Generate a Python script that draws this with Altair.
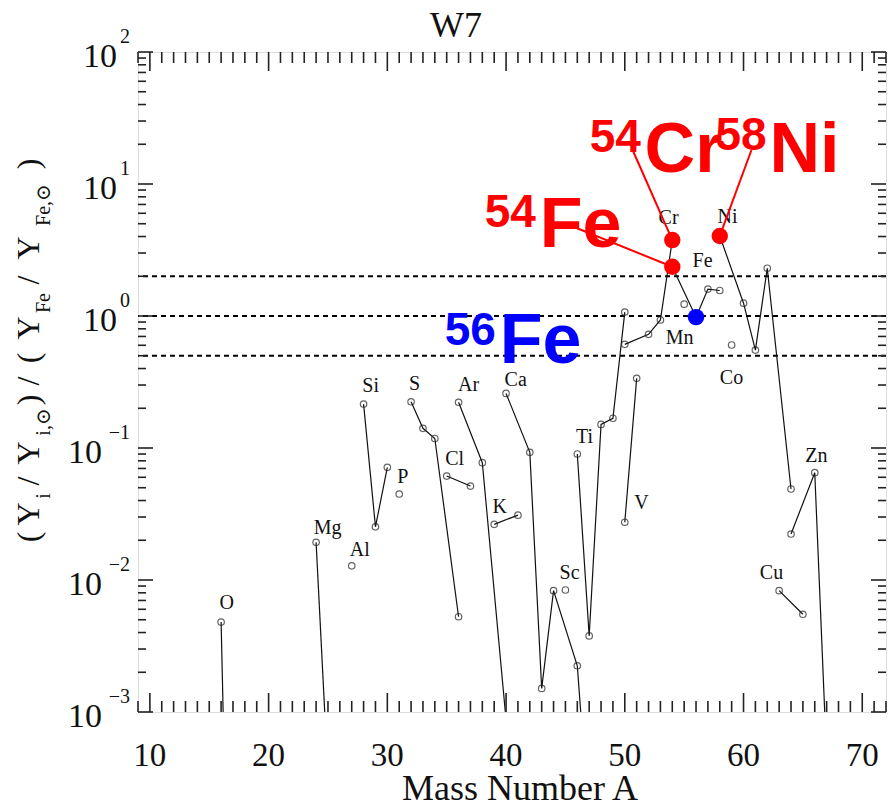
import altair as alt
import pandas as pd

# W7 isotopic production factors relative to 56Fe, one row per isotope
iso_element = [
    "O", "O",
    "Mg", "Mg",
    "Al",
    "Si", "Si", "Si",
    "P",
    "S", "S", "S", "S",
    "Cl", "Cl",
    "Ar", "Ar", "Ar",
    "K", "K",
    "Ca", "Ca", "Ca", "Ca", "Ca", "Ca",
    "Sc",
    "Ti", "Ti", "Ti", "Ti", "Ti",
    "V", "V",
    "Cr", "Cr", "Cr", "Cr",
    "Mn",
    "Fe", "Fe", "Fe", "Fe",
    "Co",
    "Ni", "Ni", "Ni", "Ni", "Ni",
    "Cu", "Cu",
    "Zn", "Zn", "Zn",
]
iso_mass = [
    16, 17,
    24, 25,
    27,
    28, 29, 30,
    31,
    32, 33, 34, 36,
    35, 37,
    36, 38, 40,
    39, 41,
    40, 42, 43, 44, 46, 48,
    45,
    46, 47, 48, 49, 50,
    50, 51,
    50, 52, 53, 54,
    55,
    54, 56, 57, 58,
    59,
    58, 60, 61, 62, 64,
    63, 65,
    64, 66, 67,
]
iso_ratio = [
    4.8e-3, 5e-7,
    0.0193, 3.3e-4,
    0.0128,
    0.215, 0.0253, 0.0714,
    0.0448,
    0.224, 0.141, 0.118, 0.00527,
    0.0613, 0.0515,
    0.222, 0.0774, 8.7e-4,
    0.0264, 0.031,
    0.259, 0.0927, 0.00151, 0.0083, 0.00224, 8.5e-6,
    0.0084,
    0.0901, 0.00377, 0.151, 0.168, 1.07,
    0.0274, 0.337,
    0.61, 0.726, 0.933, 3.76,
    1.23,
    2.36, 0.98, 1.60, 1.56,
    0.603,
    4.04, 1.25, 0.552, 2.30, 0.0489,
    0.0083, 0.0055,
    0.0223, 0.065, 4.5e-4,
]

# element name tags: (symbol, mass-number position, ratio position)
tag_text = ["O", "Mg", "Al", "Si", "P", "S", "Cl", "Ar", "K", "Ca",
            "Sc", "Ti", "V", "Cr", "Fe", "Mn", "Ni", "Co", "Cu", "Zn"]
tag_mass = [16.48, 24.98, 27.68, 28.6, 31.3, 32.3, 35.67, 36.85, 39.46, 40.81,
            45.35, 46.6, 51.4, 53.69, 56.55, 54.61, 58.65, 58.99, 62.36, 66.14]
tag_ratio = [6.7e-3, 0.0248, 0.0169, 0.295, 0.0603, 0.305, 0.0826, 0.300, 0.0357, 0.325,
             0.0113, 0.121, 0.0383, 5.52, 2.61, 0.681, 5.62, 0.339, 0.0113, 0.0869]

# highlighted isotopes and their callouts
hl_element = ["Cr", "Fe", "Ni", "Fe"]
hl_mass = [54, 54, 58, 56]
hl_color = ["red", "red", "red", "blue"]
callout_from_mass = [50.66, 45.10, 60.67]
callout_from_ratio = [18.1, 4.98, 18.1]
big_mass_text = ["54", "54", "58", "56"]
big_mass_x = [47.04, 38.2, 57.64, 34.83]
big_mass_y = [17.48, 4.72, 18.1, 0.603]
big_sym_text = ["Cr", "Fe", "Ni", "Fe"]
big_sym_x = [51.67, 42.83, 62.19, 39.46]
big_sym_y = [12.33, 3.33, 12.33, 0.4406]

ref_levels = [0.5, 1.0, 2.0]
x_labels = [10, 20, 30, 40, 50, 60, 70]
y_decades = [1e-3, 1e-2, 1e-1, 1e0, 1e1, 1e2]
y_exponents = ["\u22123", "\u22122", "\u22121", "0", "1", "2"]

W, H = 748, 660
SERIF = "Liberation Serif, DejaVu Serif"
SANS = "Liberation Sans"

assert len(iso_element) == len(iso_mass) == len(iso_ratio)
iso = pd.DataFrame({"element": iso_element, "A": iso_mass, "ratio": iso_ratio})

xs = alt.Scale(domain=[9, 72], nice=False, zero=False)
ys = alt.Scale(type="log", domain=[1e-3, 1e2], nice=False)


def X(field="A"):
    return alt.X(f"{field}:Q", scale=xs, axis=None)


def Y(field="ratio"):
    return alt.Y(f"{field}:Q", scale=ys, axis=None)


# reference levels
refs = alt.Chart(pd.DataFrame({"ratio": ref_levels})).mark_rule(
    color="black", strokeWidth=1.8, strokeDash=[5, 4]
).encode(y=Y())

# isotope chains per element
lines = alt.Chart(iso).mark_line(color="#111", strokeWidth=1.2, clip=True).encode(
    x=X(), y=Y(), detail="element:N", order="A:Q"
)
points = alt.Chart(iso).transform_filter("datum.ratio >= 0.001").mark_point(
    shape="circle", filled=False, size=42, color="#222", strokeWidth=1.2
).encode(x=X(), y=Y())

tags = alt.Chart(pd.DataFrame({"t": tag_text, "A": tag_mass, "ratio": tag_ratio})).mark_text(
    font=SERIF, fontSize=20, color="#111", align="center", baseline="middle"
).encode(x=X(), y=Y(), text="t:N")

# highlighted isotopes
hl = pd.DataFrame({"element": hl_element, "A": hl_mass, "color": hl_color})
hl = hl.merge(iso, on=["element", "A"])
call = hl.iloc[:3].copy()
call["A0"] = callout_from_mass
call["r0"] = callout_from_ratio
callouts = alt.Chart(call).mark_rule(color="red", strokeWidth=2).encode(
    x=X("A0"), y=Y("r0"), x2="A:Q", y2="ratio:Q"
)
dots = alt.Chart(hl).mark_circle(size=270, opacity=1).encode(
    x=X(), y=Y(), color=alt.Color("color:N", scale=None)
)
big = pd.DataFrame({
    "m": big_mass_text, "mx": big_mass_x, "my": big_mass_y,
    "s": big_sym_text, "sx": big_sym_x, "sy": big_sym_y, "color": hl_color,
})
big_mass = alt.Chart(big).mark_text(
    font=SANS, fontWeight="bold", fontSize=46, align="left", baseline="alphabetic"
).encode(x=X("mx"), y=Y("my"), text="m:N", color=alt.Color("color:N", scale=None))
big_sym = alt.Chart(big).mark_text(
    font=SANS, fontWeight="bold", fontSize=70, align="left", baseline="alphabetic"
).encode(x=X("sx"), y=Y("sy"), text="s:N", color=alt.Color("color:N", scale=None))

# inward ticks on all four sides
x_major = pd.DataFrame({"A": x_labels})
x_minor = pd.DataFrame({"A": [a for a in range(9, 73) if a % 10]})
y_major = pd.DataFrame({"ratio": y_decades})
y_minor = pd.DataFrame({"ratio": [m * 10.0 ** k for k in range(-3, 2) for m in range(2, 10)]})
tick_style = dict(color="#222", strokeWidth=1.6)
ticks = []
for df, ln in ((x_major, 19), (x_minor, 11)):
    ticks.append(alt.Chart(df).mark_rule(**tick_style).encode(
        x=X(), y=alt.value(H), y2=alt.value(H - ln)))
    ticks.append(alt.Chart(df).mark_rule(**tick_style).encode(
        x=X(), y=alt.value(0), y2=alt.value(ln)))
for df, ln in ((y_major, 15), (y_minor, 8)):
    ticks.append(alt.Chart(df).mark_rule(**tick_style).encode(
        y=Y(), x=alt.value(0), x2=alt.value(ln)))
    ticks.append(alt.Chart(df).mark_rule(**tick_style).encode(
        y=Y(), x=alt.value(W), x2=alt.value(W - ln)))

# tick labels
xlab = alt.Chart(x_major).mark_text(
    font=SERIF, fontSize=33, color="#111", align="center", baseline="alphabetic"
).encode(x=X(), y=alt.value(H + 54), text="A:Q")
ylab_df = pd.DataFrame({"ratio": y_decades, "e": y_exponents})
ylab_pos = alt.Chart(ylab_df).transform_filter("datum.ratio >= 1").mark_text(
    font=SERIF, fontSize=34, color="#111", align="right", baseline="alphabetic", dy=15
).encode(y=Y(), x=alt.value(-21), text=alt.value("10"))
ylab_neg = alt.Chart(ylab_df).transform_filter("datum.ratio < 1").mark_text(
    font=SERIF, fontSize=34, color="#111", align="right", baseline="alphabetic", dy=15
).encode(y=Y(), x=alt.value(-36), text=alt.value("10"))
ylab_exp = alt.Chart(ylab_df).mark_text(
    font=SERIF, fontSize=20, color="#111", align="right", baseline="alphabetic", dy=-9
).encode(y=Y(), x=alt.value(-8), text="e:N")

# titles
title = alt.Chart(pd.DataFrame({"t": ["W7"]})).mark_text(
    font=SERIF, fontSize=36, color="#111", align="center", baseline="alphabetic"
).encode(x=alt.value(318), y=alt.value(-15), text="t:N")
xtitle = alt.Chart(pd.DataFrame({"t": ["Mass Number A"]})).mark_text(
    font=SERIF, fontSize=36, color="#111", align="center", baseline="alphabetic"
).encode(x=alt.value(382), y=alt.value(H + 88), text="t:N")

# rotated y title, built from normal-size runs and subscripts
ytitle_parts = [
    ("(", 537, False), ("Y", 514, False), ("i", 496, True), ("/", 481, False),
    ("Y", 453, False), ("i,\u2299", 422, True), (")", 400, False), ("/", 381, False),
    ("(", 358, False), ("Y", 328, False), ("Fe", 303, True), ("/", 280, False),
    ("Y", 248, False), ("Fe,\u2299", 205, True), (")", 164, False),
]
ytitle = []
for txt, yc, sub in ytitle_parts:
    ytitle.append(alt.Chart(pd.DataFrame({"t": [txt]})).mark_text(
        font=SERIF, fontSize=20 if sub else 32, color="#111", angle=270,
        align="center", baseline="alphabetic"
    ).encode(x=alt.value((50 if sub else 39) - 138), y=alt.value(yc - 52), text="t:N"))

chart = alt.layer(
    refs, lines, points, tags, *ticks, callouts, dots, big_mass, big_sym,
    xlab, ylab_pos, ylab_neg, ylab_exp, title, xtitle, *ytitle
).properties(
    width=W, height=H,
    autosize=alt.AutoSizeParams(type="none"),
    padding={"left": 138, "top": 52, "right": 9, "bottom": 95},
).configure_view(stroke="black", strokeWidth=2).configure(background="white")

chart.save("out.html", embed_options={"renderer": "svg", "actions": False})
